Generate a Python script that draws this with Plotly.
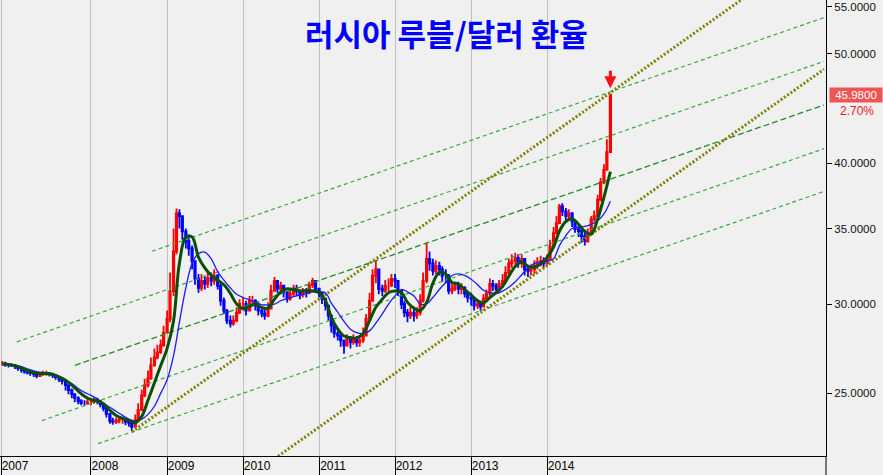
import math
import pandas as pd
import plotly.graph_objects as go

# ---------------- data ----------------
bar_dates = pd.date_range("2006-11-01", "2014-11-01", freq="SMS")  # 1st & 15th of each month

close_2006 = [26.58, 26.53, 26.48, 26.48]
close_2007 = [26.42, 26.32, 26.21, 26.15, 26.10, 26.05, 26.00, 25.90, 26.00, 26.05, 26.05, 26.00,
              25.95, 25.84, 25.73, 25.63, 25.42, 25.17, 24.96, 24.76, 24.61, 24.51, 24.51, 24.56]
close_2008 = [24.56, 24.66, 24.61, 24.46, 24.26, 23.97, 23.64, 23.59, 23.64, 23.68, 23.68, 23.59,
              23.54, 23.35, 23.68, 24.17, 24.90, 25.42, 25.78, 26.48, 26.90, 27.18, 27.57, 28.30]
close_2009 = [29.10, 30.80, 33.40, 36.10, 35.90, 34.80, 34.10, 33.60, 32.75, 31.60, 31.00, 31.45,
              31.26, 31.65, 31.45, 31.78, 31.14, 30.21, 29.60, 29.00, 28.83, 29.00, 29.48, 30.00]
close_2010 = [30.00, 29.60, 30.20, 30.20, 29.90, 29.60, 29.42, 29.30, 29.72, 30.82, 31.45, 30.95,
              31.14, 30.70, 30.33, 30.64, 30.95, 30.82, 30.58, 30.82, 30.70, 31.20, 31.45, 30.95]
close_2011 = [30.70, 30.33, 29.90, 29.30, 28.70, 28.25, 28.13, 27.85, 27.57, 27.96, 27.74, 27.96,
              27.74, 27.85, 28.13, 29.10, 30.20, 31.78, 32.20, 30.95, 30.82, 31.14, 31.14, 31.58]
close_2012 = [31.45, 30.82, 30.00, 29.48, 29.30, 29.48, 29.30, 29.48, 30.21, 31.45, 32.90, 32.60,
              32.10, 32.43, 32.20, 31.78, 31.78, 30.82, 30.95, 31.14, 30.95, 31.00, 30.64, 30.39]
close_2013 = [30.33, 29.90, 30.00, 29.84, 30.33, 30.64, 31.26, 31.14, 30.95, 31.26, 31.45, 31.97,
              32.60, 32.75, 32.96, 32.60, 32.90, 32.20, 32.10, 32.20, 32.43, 32.60, 32.75, 32.60]
close_2014 = [32.90, 33.75, 34.67, 35.38, 36.62, 36.25, 35.90, 36.10, 35.52, 34.95, 34.81, 34.46,
              34.11, 34.67, 35.66, 35.90, 37.13, 38.45, 39.45, 40.90, 45.98]

high_2006 = [26.70, 26.66, 26.60, 26.58]
high_2007 = [26.55, 26.45, 26.35, 26.30, 26.22, 26.18, 26.15, 26.05, 26.12, 26.18, 26.18, 26.12,
             26.08, 26.00, 25.90, 25.82, 25.70, 25.45, 25.25, 25.00, 24.85, 24.70, 24.65, 24.70]
high_2008 = [24.75, 24.80, 24.78, 24.62, 24.45, 24.28, 23.98, 23.78, 23.80, 23.85, 23.85, 23.80,
             23.70, 23.58, 23.95, 24.50, 25.20, 25.75, 26.20, 26.90, 27.40, 27.60, 27.90, 28.70]
high_2009 = [29.60, 32.00, 35.00, 36.45, 36.40, 35.90, 35.00, 34.40, 33.80, 32.80, 31.90, 31.90,
             31.80, 32.00, 32.00, 32.20, 31.90, 31.30, 30.40, 29.70, 29.30, 29.30, 29.80, 30.30]
high_2010 = [30.40, 30.20, 30.50, 30.50, 30.30, 30.10, 29.80, 29.70, 30.10, 31.20, 31.70, 31.50,
             31.40, 31.20, 30.80, 30.90, 31.20, 31.20, 30.90, 31.00, 31.00, 31.40, 31.65, 31.50]
high_2011 = [31.00, 30.60, 30.20, 29.70, 29.20, 28.60, 28.40, 28.20, 27.90, 28.20, 28.10, 28.20,
             28.10, 28.10, 28.60, 29.40, 30.70, 32.20, 32.80, 32.00, 31.20, 31.50, 31.60, 31.90]
high_2012 = [31.90, 31.50, 30.90, 30.20, 29.70, 29.80, 29.70, 29.80, 30.60, 32.00, 34.00, 33.40,
             32.90, 32.80, 32.70, 32.40, 32.20, 31.90, 31.30, 31.40, 31.40, 31.30, 31.10, 30.80]
high_2013 = [30.70, 30.40, 30.30, 30.20, 30.60, 30.90, 31.60, 31.50, 31.30, 31.50, 31.90, 32.40,
             32.90, 33.20, 33.30, 33.20, 33.20, 32.90, 32.50, 32.50, 32.80, 33.00, 33.10, 33.00]
high_2014 = [33.20, 34.20, 35.10, 35.90, 36.80, 36.85, 36.50, 36.40, 36.20, 35.60, 35.30, 35.00,
             34.80, 35.00, 35.90, 36.30, 37.50, 38.80, 39.90, 42.00, 45.98]

low_2006 = [26.45, 26.40, 26.36, 26.38]
low_2007 = [26.28, 26.18, 26.08, 26.02, 25.98, 25.92, 25.85, 25.78, 25.85, 25.92, 25.92, 25.88,
            25.80, 25.70, 25.58, 25.45, 25.15, 24.95, 24.75, 24.55, 24.45, 24.40, 24.38, 24.42]
low_2008 = [24.40, 24.48, 24.45, 24.30, 24.10, 23.80, 23.50, 23.45, 23.48, 23.52, 23.50, 23.42,
            23.35, 23.15, 23.30, 23.60, 24.10, 24.80, 25.30, 25.70, 26.40, 26.80, 27.10, 27.50]
low_2009 = [28.30, 28.90, 30.50, 33.20, 35.00, 34.20, 33.60, 33.10, 32.20, 31.20, 30.70, 30.80,
            30.90, 31.00, 31.10, 31.20, 30.90, 29.90, 29.40, 28.80, 28.60, 28.70, 28.90, 29.40]
low_2010 = [29.60, 29.30, 29.60, 29.90, 29.60, 29.30, 29.20, 29.05, 29.20, 29.70, 30.80, 30.70,
            30.80, 30.40, 30.10, 30.20, 30.50, 30.50, 30.30, 30.40, 30.40, 30.60, 31.00, 30.70]
low_2011 = [30.40, 30.00, 29.60, 29.00, 28.30, 28.00, 27.85, 27.50, 27.10, 27.50, 27.40, 27.60,
            27.50, 27.50, 27.70, 28.30, 29.20, 30.30, 31.30, 30.60, 30.50, 30.70, 30.80, 31.10]
low_2012 = [31.00, 30.50, 29.70, 29.20, 28.90, 29.10, 28.95, 29.10, 29.30, 30.10, 31.30, 32.10,
            31.80, 31.90, 31.80, 31.40, 31.30, 30.60, 30.60, 30.80, 30.60, 30.60, 30.40, 30.10]
low_2013 = [29.90, 29.60, 29.70, 29.60, 29.80, 30.20, 30.50, 30.80, 30.70, 30.80, 31.00, 31.30,
            31.80, 32.30, 32.50, 32.30, 32.30, 31.80, 31.70, 31.80, 31.90, 32.20, 32.40, 32.30]
low_2014 = [32.50, 32.90, 33.70, 34.60, 35.30, 35.90, 35.50, 35.60, 35.10, 34.70, 34.40, 34.00,
            33.80, 34.00, 34.60, 35.50, 35.80, 37.00, 38.30, 39.40, 41.00]

close = (close_2006 + close_2007 + close_2008 + close_2009 + close_2010 + close_2011
         + close_2012 + close_2013 + close_2014)
high = (high_2006 + high_2007 + high_2008 + high_2009 + high_2010 + high_2011
        + high_2012 + high_2013 + high_2014)
low = (low_2006 + low_2007 + low_2008 + low_2009 + low_2010 + low_2011
       + low_2012 + low_2013 + low_2014)
open_ = [close[0]] + close[:-1]

ma_dates = pd.date_range("2006-11-01", "2014-11-01", freq="MS")
ma_green = [26.55, 26.52,
            26.45, 26.32, 26.18, 26.08, 26.02, 26.03, 25.98, 25.85, 25.68, 25.42, 25.12, 24.85,
            24.68, 24.62, 24.48, 24.15, 23.90, 23.75, 23.66, 23.55, 23.85, 24.65, 25.55, 26.45,
            27.40, 29.00, 32.60, 34.40, 34.40, 33.00, 32.30, 31.80, 31.50, 31.20, 30.65, 30.00,
            29.72, 29.85, 30.00, 29.78, 29.75, 30.30, 30.75, 30.95, 30.90, 30.82, 30.82, 30.82,
            30.70, 30.20, 29.20, 28.50, 28.10, 28.00, 28.00, 28.25, 29.00, 29.80, 30.30, 30.70,
            30.80, 30.70, 30.10, 29.75, 29.60, 30.10, 31.30, 32.00, 31.90, 31.35, 31.25, 30.90,
            30.55, 30.20, 30.05, 30.40, 30.70, 31.10, 31.75, 32.40, 32.70, 32.40, 32.35, 32.55,
            33.00, 33.70, 34.80, 35.50, 35.70, 35.30, 34.80, 34.60, 35.70, 37.30, 39.30]
ma_blue = [26.58, 26.50,
           26.45, 26.40, 26.28, 26.18, 26.10, 26.05, 26.00, 25.90, 25.70, 25.50, 25.25, 25.05,
           24.90, 24.72, 24.50, 24.30, 24.10, 23.90, 23.72, 23.62, 23.72, 23.95, 24.35, 25.00,
           25.70, 27.00, 28.90, 31.00, 32.60, 33.25, 33.35, 32.90, 32.05, 31.50, 31.00, 30.60,
           30.40, 30.25, 30.10, 29.95, 29.95, 30.00, 30.20, 30.35, 30.45, 30.55, 30.65, 30.75,
           30.75, 30.70, 30.05, 29.50, 28.95, 28.50, 28.30, 28.25, 28.40, 28.85, 29.40, 30.00,
           30.50, 30.90, 30.75, 30.50, 30.00, 30.00, 30.40, 30.90, 31.35, 31.80, 31.90, 31.80,
           31.55, 31.20, 30.85, 30.70, 30.65, 30.80, 31.05, 31.40, 31.85, 32.30, 32.60, 32.70,
           32.75, 32.90, 33.80, 34.50, 35.00, 35.10, 35.15, 35.30, 35.55, 36.05, 37.00]

# channel trend lines (start / end points)
green_start_dates = ["2008-10-21", "2007-01-10", "2007-10-16", "2007-05-10", "2008-02-04"]
green_start_vals = [33.41, 27.77, 26.47, 23.65, 22.56]
green_end_date = "2017-08-23"
green_end_vals = [53.82, 49.22, 45.03, 41.19, 37.75]
olive_start_dates = ["2008-07-16", "2010-04-01"]
olive_start_vals = [23.11, 21.48]
olive_end_dates = ["2016-10-21", "2017-08-23"]
olive_end_vals = [57.36, 48.43]

year_tick_dates = ["2006-10-26", "2008-01-01", "2009-01-01", "2010-01-01", "2011-01-01",
                   "2012-01-01", "2013-01-01", "2014-01-01"]
year_tick_labels = ["2007", "2008", "2009", "2010", "2011", "2012", "2013", "2014"]
y_tick_vals = [25, 30, 35, 40, 50, 55]

last_value = 45.98
last_change = "2.70%"
arrow_value = 46.6
title_text = "러시아 루블/달러 환율"

# ---------------- figure ----------------
fig = go.Figure()

for i in range(len(green_start_dates)):
    fig.add_trace(go.Scatter(
        x=[green_start_dates[i], green_end_date], y=[green_start_vals[i], green_end_vals[i]],
        mode="lines", hoverinfo="skip",
        line=dict(color="#1f8f1f" if i == 2 else "#3aaa3a", width=1.3 if i == 2 else 1.2,
                  dash="6px,3px" if i == 2 else "4px,3px")))

for i in range(len(olive_start_dates)):
    fig.add_trace(go.Scatter(
        x=[olive_start_dates[i], olive_end_dates[i]], y=[olive_start_vals[i], olive_end_vals[i]],
        mode="lines", hoverinfo="skip",
        line=dict(color="#808000", width=3, dash="2px,2px")))

fig.add_trace(go.Candlestick(
    x=bar_dates, open=open_, high=high, low=low, close=close,
    increasing=dict(line=dict(color="#ff0000", width=1.8), fillcolor="#ff0000"),
    decreasing=dict(line=dict(color="#0000ff", width=1.8), fillcolor="#0000ff"),
    whiskerwidth=0, hoverinfo="skip"))

fig.add_trace(go.Scatter(x=ma_dates, y=ma_blue, mode="lines", hoverinfo="skip",
                         line=dict(color="#1a1aff", width=1.3, shape="spline")))
fig.add_trace(go.Scatter(x=ma_dates, y=ma_green, mode="lines", hoverinfo="skip",
                         line=dict(color="#085008", width=3, shape="spline")))

fig.update_layout(
    width=883, height=475,
    margin=dict(l=0, r=57, t=0, b=19, autoexpand=False),
    paper_bgcolor="#f0f0f0", plot_bgcolor="#f0f0f0",
    showlegend=False,
    font=dict(family="Liberation Sans, Arial, sans-serif", size=12, color="#000000"),
)

fig.update_xaxes(
    type="date", range=["2006-10-21", "2017-09-02"],
    rangeslider_visible=False, automargin=False,
    tickmode="array", tickvals=year_tick_dates, ticktext=year_tick_labels,
    showgrid=True, gridcolor="#c0c0c0", gridwidth=1,
    ticks="outside", ticklen=20, tickcolor="#000000", tickwidth=1,
    ticklabelstandoff=-21, ticklabelshift=14, ticklabeloverflow="allow",
    showline=True, linecolor="#000000", linewidth=1, zeroline=False,
    tickfont=dict(size=12, color="#000000"),
)

fig.update_yaxes(
    type="log", side="right", automargin=False,
    range=[math.log10(22.0), math.log10(55.79)],
    tickmode="array", tickvals=y_tick_vals, tickformat=".4f",
    ticks="outside", ticklen=5, tickcolor="#000000", ticklabeloverflow="allow",
    showline=True, linecolor="#000000", linewidth=1,
    showgrid=False, zeroline=False,
    tickfont=dict(size=11.5, color="#111111"),
)

# right axis line extends below plot
fig.add_shape(type="line", xref="paper", yref="paper", x0=1, x1=1, y0=-0.05, y1=0,
              line=dict(color="#000000", width=1))

fig.add_annotation(xref="paper", yref="paper", x=0.541, y=0.928, text=title_text,
                   showarrow=False, xanchor="center", yanchor="middle",
                   font=dict(family="Noto Sans CJK KR", size=31, color="#0000ff", weight="bold"))

fig.add_annotation(xref="paper", yref="y", x=1, y=math.log10(last_value), text=f"{last_value:.4f}",
                   showarrow=False, xanchor="center", yanchor="middle", xshift=30,
                   bgcolor="#f05555", width=50, height=12, borderpad=1,
                   font=dict(size=11.5, color="#ffffff"))
fig.add_annotation(xref="paper", yref="y", x=1, y=math.log10(last_value), text=last_change,
                   showarrow=False, xanchor="center", yanchor="middle", xshift=31, yshift=-16,
                   font=dict(size=12, color="#e82020"))

fig.add_annotation(xref="x", yref="y", x="2014-11-01", y=math.log10(arrow_value), text="",
                   showarrow=True, ax=0, ay=-19, arrowhead=2, arrowsize=0.8, arrowwidth=3,
                   arrowcolor="#ff1010", standoff=0)

fig.write_html("out.html", config={"displayModeBar": False},
               post_script="document.body.style.margin='0';document.body.style.background='#f0f0f0';")
